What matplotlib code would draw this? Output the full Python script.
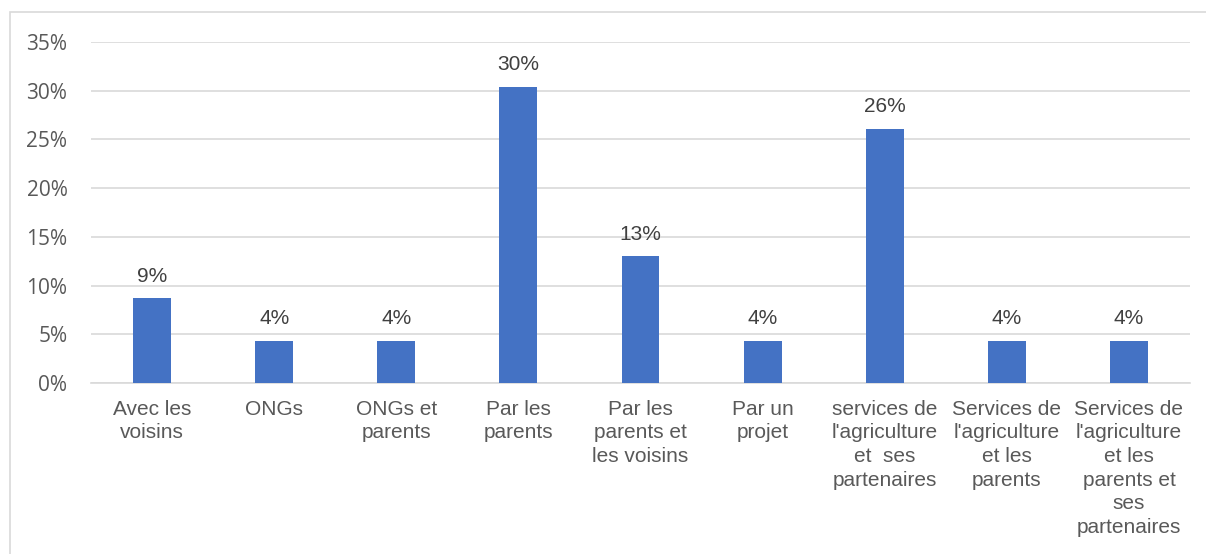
import matplotlib.pyplot as plt
from matplotlib.patches import Rectangle
from matplotlib.ticker import FuncFormatter

# Data: share of respondents by source
categories = [
    "Avec les\nvoisins",
    "ONGs",
    "ONGs et\nparents",
    "Par les\nparents",
    "Par les\nparents et\nles voisins",
    "Par un\nprojet",
    "services de\nl'agriculture\net  ses\npartenaires",
    "Services de\nl'agriculture\net les\nparents",
    "Services de\nl'agriculture\net les\nparents et\nses\npartenaires",
]
values = [0.087, 0.0435, 0.0435, 0.304, 0.130, 0.0435, 0.261, 0.0435, 0.0435]
yticks = [0, 0.05, 0.10, 0.15, 0.20, 0.25, 0.30, 0.35]

fig = plt.figure(figsize=(12.06, 5.54), dpi=100)
ax = fig.add_axes([91 / 1206, 1 - 383 / 554, 1099 / 1206, (383 - 42) / 554])

x = range(len(categories))
ax.bar(x, values, width=0.31, color="#4472C4", zorder=3)

for xi, v in zip(x, values):
    ax.annotate(f"{round(v * 100):.0f}%", (xi, v), xytext=(0, 9),
                textcoords="offset points", ha="center", va="bottom",
                fontsize=15, color="#404040", family="Liberation Sans")

ax.set_xlim(-0.5, len(categories) - 0.5)
ax.set_ylim(0, 0.35)
ax.set_yticks(yticks)
ax.yaxis.set_major_formatter(FuncFormatter(lambda v, p: f"{v * 100:.0f}%"))
ax.grid(axis="y", color="#D9D9D9", linewidth=1.2, zorder=0)

ax.set_xticks(list(x))
ax.set_xticklabels(categories, fontsize=15, color="#595959",
                   family="Liberation Sans", linespacing=1.31, va="top")
for lbl in ax.get_yticklabels():
    lbl.set_fontsize(15)
    lbl.set_color("#595959")
    lbl.set_family("Open Sans")

ax.tick_params(axis="both", length=0)
ax.tick_params(axis="y", pad=17)
ax.tick_params(axis="x", pad=12)
for side in ["top", "right", "left"]:
    ax.spines[side].set_visible(False)
ax.spines["bottom"].set_color("#D9D9D9")
ax.spines["bottom"].set_linewidth(1.2)

# light frame around the chart area
fig.patches.append(Rectangle((10 / 1206, -0.1), 1.2, 1 - 12 / 554 + 0.1,
                             transform=fig.transFigure, fill=False,
                             edgecolor="#D9D9D9", linewidth=1.2))

fig.savefig("out.png", dpi=100)
